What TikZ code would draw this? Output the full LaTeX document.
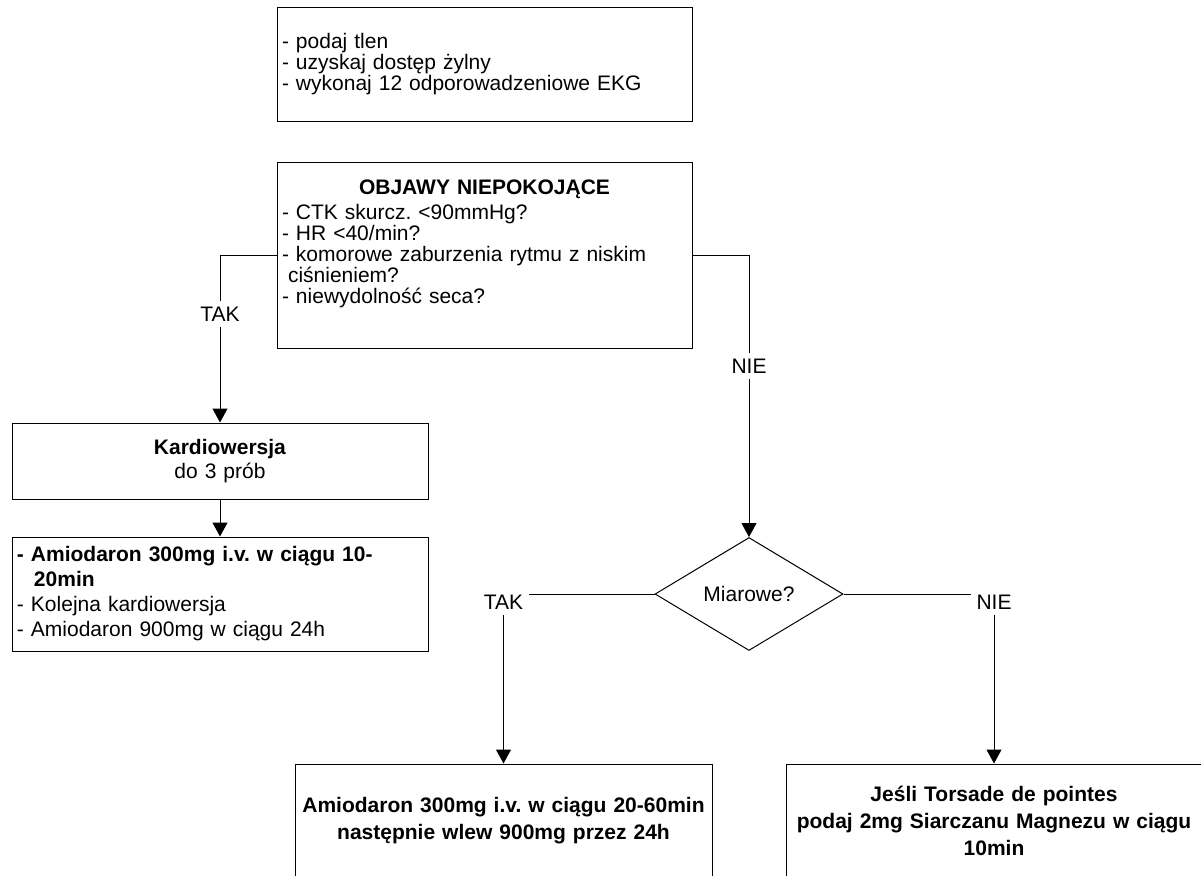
\documentclass[tikz,border=0pt]{standalone}
\usepackage{fontspec}
\setmainfont{Liberation Sans}
\usetikzlibrary{shapes.geometric,arrows.meta,positioning}
\setlength{\parindent}{0pt}
\setlength{\parskip}{0pt}
\frenchspacing

% extra depth under the last line of a box
\newcommand{\zapas}[1]{\rule[-#1]{0pt}{#1}}

\begin{document}
\begin{tikzpicture}[x=0.5pt, y=-0.5pt, line width=0.5pt,
    font=\fontsize{10.5pt}{10.5pt}\selectfont,
    box/.style={draw, rectangle, fill=white, inner xsep=2.5pt, inner ysep=0pt},
    romb/.style={draw, diamond, inner sep=0pt, minimum width=94pt, minimum height=56.5pt},
    etykieta/.style={fill=white, inner sep=3pt},
    strzalka/.style={-{Triangle[length=7pt, width=7.5pt]}}]
    \clip (0,0) rectangle (1201,875);

    \node[box, text width=202.5pt, align=left, minimum height=57pt] (tlen) at (484.5,64)
        {- podaj tlen\\- uzyskaj dostęp żylny\\- wykonaj 12 odporowadzeniowe EKG};
    \node[box, text width=202.5pt, align=left, minimum height=93pt] (objawy) at (484.5,255)
        {\hfill\textbf{OBJAWY NIEPOKOJĄCE}\hfill\null\\[2pt]
         - CTK skurcz. <90mmHg?\\- HR <40/min?\\- komorowe zaburzenia rytmu z niskim\\
         \hspace*{3pt}ciśnieniem?\\- niewydolność seca?\zapas{13.5pt}};

    \node[box, text width=203pt, align=center, minimum height=38pt] (kard) at (220,461)
        {\textbf{Kardiowersja}\\[1.5pt]do 3 prób};
    \node[box, text width=203pt, align=left, minimum height=57pt] (amio) at (220,594)
        {\textbf{- Amiodaron 300mg i.v. w ciągu 10-}\\[2pt]\hspace*{8.5pt}\textbf{20min}\\[2pt]
         - Kolejna kardiowersja\\[2pt]- Amiodaron 900mg w ciągu 24h};

    \node[romb] (miarowe) at (749,594) {Miarowe?};

    \node[box, text width=203.5pt, align=center, minimum height=57pt] (wlew) at (503.5,821)
        {\textbf{Amiodaron 300mg i.v. w ciągu 20-60min}\\[3pt]\textbf{następnie wlew 900mg przez 24h}};
    \node[box, text width=203pt, align=center, minimum height=57pt] (magnez) at (994,821)
        {\textbf{Jeśli Torsade de pointes}\\[3pt]\textbf{podaj 2mg Siarczanu Magnezu w ciągu}\\[3pt]\textbf{10min}};

    \draw[strzalka] (objawy.west) -| (kard.north);
    \draw[strzalka] (objawy.east) -| (miarowe.north);
    \draw[strzalka] (kard) -- (amio);
    \draw[strzalka] (miarowe.west) -| (wlew.north);
    \draw[strzalka] (miarowe.east) -| (magnez.north);

    \node[etykieta] (tak1) at (220,314) {TAK};
    \node[etykieta] (nie1) at (749,366) {NIE};
    \node[etykieta] (tak2) at (503.5,602) {TAK};
    \node[etykieta] (nie2) at (994,602) {NIE};
\end{tikzpicture}
\end{document}
